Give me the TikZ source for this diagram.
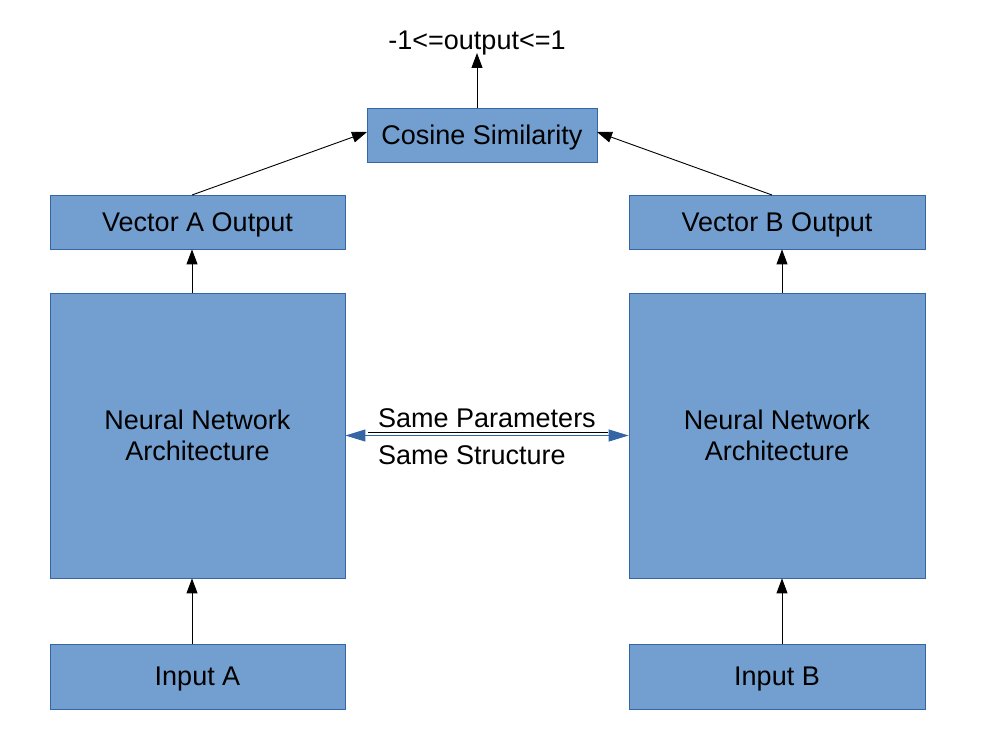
\documentclass[tikz,border=0pt]{standalone}
\usepackage{fontspec}
\setmainfont{Liberation Sans}
\usetikzlibrary{arrows.meta}
\definecolor{boxfill}{HTML}{729FCF}
\definecolor{boxline}{HTML}{3465A4}
\begin{document}
\begin{tikzpicture}[x=1pt,y=-1pt,
  blk/.style={draw=boxline,fill=boxfill,line width=0.8pt,inner sep=0pt,align=center,font=\fontsize{27}{31}\selectfont},
  one/.style={text depth=0pt},
  conn/.style={draw=black,line width=0.9pt,-{Triangle[length=15pt,width=11pt]}},
  lbl/.style={font=\fontsize{27}{31}\selectfont,inner sep=0pt}]
\useasboundingbox (0,0) rectangle (982,752);
\node[blk,one,minimum width=230pt,minimum height=54pt] (cos) at (482,135) {Cosine Similarity};
\node[lbl] (out) at (477,43) {-1<=output<=1};
\coordinate (outa) at (477,53);
\node[blk,one,minimum width=295pt,minimum height=54pt] (va) at (197.5,222) {Vector A Output};
\node[blk,one,minimum width=296pt,minimum height=54pt] (vb) at (777,222) {Vector B Output};
\node[blk,minimum width=295pt,minimum height=285pt] (nna) at (197.5,435.5) {Neural Network\\Architecture};
\node[blk,minimum width=296pt,minimum height=285pt] (nnb) at (777,435.5) {Neural Network\\Architecture};
\node[blk,one,minimum width=295pt,minimum height=65pt] (ia) at (197.5,676.5) {Input A};
\node[blk,one,minimum width=296pt,minimum height=65pt] (ib) at (777,676.5) {Input B};
\coordinate (vat) at (192,195);
\coordinate (vbt) at (772,195);
\coordinate (vbx) at (782,195);
\coordinate (cosw) at (367,132);
\coordinate (cose) at (597,132);
\draw[conn] (cos.north -| outa) -- (outa);
\draw[conn] (vat) -- (cosw);
\draw[conn] (vbt) -- (cose);
\draw[conn] (nna.north -| vat) -- (va.south -| vat);
\draw[conn] (nnb.north -| vbx) -- (vb.south -| vbx);
\draw[conn] (ia.north -| vat) -- (nna.south -| vat);
\draw[conn] (ib.north -| vbx) -- (nnb.south -| vbx);
\coordinate (ml) at (368,432.5);
\coordinate (mr) at (608,432.5);
\draw[black,line width=0.9pt] (ml) -- (mr);
\draw[boxline,line width=1pt,{Triangle[length=20pt,width=12pt]}-{Triangle[length=20pt,width=12pt]}] (nna.east |- 0,435.5) -- (nnb.west |- 0,435.5);
\node[lbl,anchor=west] (sp) at (378,418) {Same Parameters};
\node[lbl,anchor=west] (ss) at (378,455) {Same Structure};
\end{tikzpicture}
\end{document}
